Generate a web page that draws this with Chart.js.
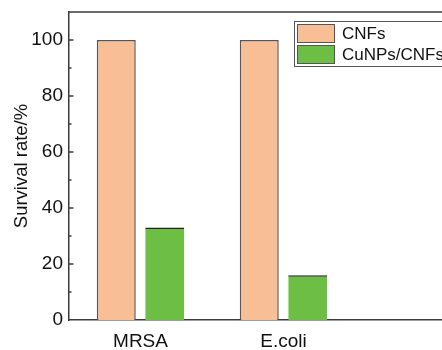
<!DOCTYPE html>
<html>
<head>
<title></title>
<script src="https://cdn.jsdelivr.net/npm/chart.js@4.4.0/dist/chart.umd.min.js"></script>
<style>
  html, body { margin: 0; padding: 0; overflow: hidden; background: #fff; }
  #wrap { width: 442px; height: 350px; overflow: hidden; }
</style>
</head>
<body>

<div id="wrap">
  <canvas id="myChart" width="520" height="350"></canvas>
</div>

<script>
// data
var categories = ["MRSA", "E.coli", ""];
var cnfsValues = [100, 100, null];
var cunpsValues = [33, 16, null];
var seriesNames = ["CNFs", "CuNPs/CNFs"];

var peach = "rgb(248,190,150)";
var green = "rgb(109,190,69)";
var axisColor = "#3a3a3a";
var fontFam = "'Liberation Sans', Arial, sans-serif";

// top frame line, inward y ticks and the boxed legend
var framePlugin = {
  id: "frame",
  afterDraw: function(chart) {
    var ctx = chart.ctx;
    var area = chart.chartArea;
    var y = chart.scales.y;
    ctx.save();
    ctx.strokeStyle = axisColor;
    ctx.lineWidth = 1.5;
    ctx.beginPath();
    ctx.moveTo(area.left - 0.75, area.top);
    ctx.lineTo(chart.width, area.top);
    ctx.stroke();

    y.ticks.forEach(function(t) {
      if (t.value >= 110 || t.value <= 0) return;
      var py = y.getPixelForValue(t.value);
      var len = (t.value % 20 === 0) ? 4.5 : 2.5;
      ctx.beginPath();
      ctx.moveTo(area.left, py);
      ctx.lineTo(area.left + len, py);
      ctx.stroke();
    });

    // legend
    var lx = 294, ly = 21;
    ctx.lineWidth = 1;
    ctx.strokeStyle = "#555";
    ctx.strokeRect(lx + 0.5, ly + 0.5, 300, 45);
    ctx.font = "17px " + fontFam;
    ctx.textBaseline = "middle";
    chart.data.datasets.forEach(function(ds, i) {
      var sy = ly + 3 + i * 21;
      ctx.fillStyle = ds.backgroundColor;
      ctx.fillRect(lx + 3, sy, 38, 19);
      ctx.strokeStyle = "#555";
      ctx.strokeRect(lx + 3.5, sy + 0.5, 37, 18);
      ctx.fillStyle = "#111";
      ctx.fillText(ds.label, lx + 48, sy + 10);
    });
    ctx.restore();
  }
};

var ctx = document.getElementById("myChart").getContext("2d");
var myChart = new Chart(ctx, {
  type: "bar",
  data: {
    labels: categories,
    datasets: [{
      label: seriesNames[0],
      data: cnfsValues,
      backgroundColor: peach,
      borderColor: "#555",
      borderWidth: { top: 1.5, left: 1.5, right: 1.5, bottom: 0 },
      borderSkipped: false,
      categoryPercentage: 0.678,
      barPercentage: 0.804
    }, {
      label: seriesNames[1],
      data: cunpsValues,
      backgroundColor: green,
      borderColor: "#222",
      borderWidth: { top: 1.5, left: 0, right: 0, bottom: 0 },
      borderSkipped: false,
      categoryPercentage: 0.678,
      barPercentage: 0.804
    }]
  },
  options: {
    responsive: false,
    devicePixelRatio: 1,
    animation: false,
    layout: { padding: { left: 0, top: 12, right: 22, bottom: 0 } },
    plugins: {
      legend: { display: false },
      tooltip: { enabled: false }
    },
    scales: {
      x: {
        grid: { display: false, drawTicks: false },
        border: { display: true, color: axisColor, width: 1.5 },
        ticks: {
          color: "#111",
          padding: 10,
          maxRotation: 0,
          font: { family: fontFam, size: 19 }
        },
        afterFit: function(s) { s.height = 30; s.paddingLeft = 0; s.paddingRight = 0; }
      },
      y: {
        min: 0,
        max: 110,
        grid: { display: false, drawTicks: false },
        border: { display: true, color: axisColor, width: 1.5 },
        ticks: {
          stepSize: 10,
          color: "#111",
          padding: 6,
          font: { family: fontFam, size: 19 },
          callback: function(v) { return (v % 20 === 0 && v <= 100) ? v : ""; }
        },
        title: {
          display: true,
          text: "Survival rate/%",
          color: "#111",
          padding: { top: 11, bottom: 0 },
          font: { family: fontFam, size: 18.5 }
        },
        afterFit: function(s) { s.width = 69; s.paddingTop = 0; s.paddingBottom = 0; }
      }
    }
  },
  plugins: [framePlugin]
});
</script>

</body>
</html>
